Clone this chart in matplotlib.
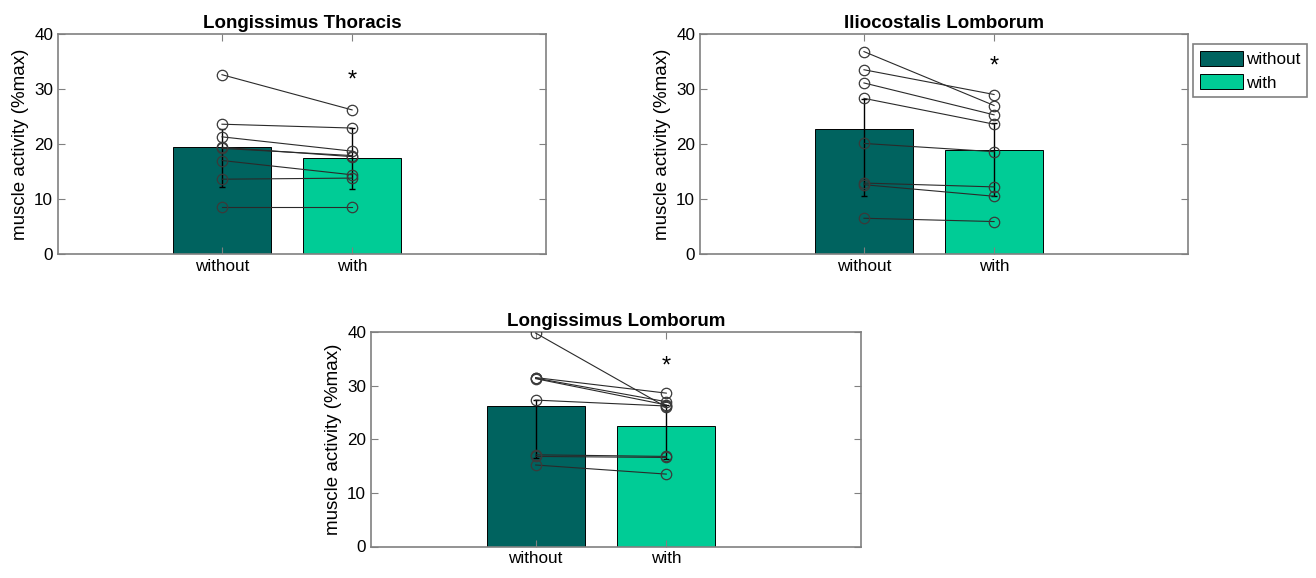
import numpy as np
import matplotlib
matplotlib.use("Agg")
import matplotlib.pyplot as plt
from matplotlib.patches import Patch

plt.rcParams['font.family'] = ['Liberation Sans', 'DejaVu Sans']

# --- data (muscle activity, %max) ---
conditions = ["without", "with"]
muscles = ["Longissimus Thoracis", "Iliocostalis Lomborum", "Longissimus Lomborum"]

# individual subjects, one entry per subject
lt_without = [32.6, 23.6, 21.3, 19.4, 19.2, 17.0, 13.6, 8.5]
lt_with = [26.2, 22.9, 18.7, 17.7, 17.9, 14.4, 13.8, 8.5]
il_without = [36.8, 33.5, 31.1, 28.3, 20.1, 12.9, 12.6, 6.5]
il_with = [27.0, 29.0, 25.3, 23.6, 18.6, 12.2, 10.5, 5.9]
ll_without = [39.8, 31.5, 31.4, 31.3, 27.3, 17.1, 16.8, 15.2]
ll_with = [26.0, 28.6, 27.0, 26.4, 26.2, 16.8, 16.6, 13.5]

# group bars and error bar extents (low, high)
bar_lt = [19.4, 17.4]
bar_il = [22.7, 18.9]
bar_ll = [26.2, 22.5]
err_lt = [(12.1, 22.7), (11.9, 22.9)]
err_il = [(10.5, 28.2), (10.6, 23.9)]
err_ll = [(16.5, 27.3), (16.3, 26.4)]

# significance marker height
star_y = [31.6, 34.1, 33.5]

col_without = "#00635f"
col_with = "#00cc96"
spine_col = "#808080"

fig = plt.figure(figsize=(13.16, 5.78), dpi=100)
W, H = 1316, 578
boxes = [
    (58, 34, 488, 220),
    (700, 34, 488, 220),
    (371, 332, 490, 214.5),
]

panels = [
    (lt_without, lt_with, bar_lt, err_lt),
    (il_without, il_with, bar_il, err_il),
    (ll_without, ll_with, bar_ll, err_ll),
]

x = np.array([1, 2])
for i, (box, (wo, wi, bars, errs)) in enumerate(zip(boxes, panels)):
    l, t, w, h = box
    ax = fig.add_axes([l / W, 1 - (t + h) / H, w / W, h / H])

    ax.bar(x, bars, width=0.75, color=[col_without, col_with],
           edgecolor="black", linewidth=0.7, zorder=1)

    lo = np.array([bars[k] - errs[k][0] for k in range(2)])
    hi = np.array([errs[k][1] - bars[k] for k in range(2)])
    ax.errorbar(x, bars, yerr=[lo, hi], fmt="none", ecolor="black",
                elinewidth=1.0, capsize=2, capthick=1.0, zorder=2)

    for a, b in zip(wo, wi):
        ax.plot(x, [a, b], "-o", color="#2a2a2a", lw=0.8, ms=7.5,
                mfc="none", mec="#3a3a3a", mew=0.9, zorder=3)

    ax.text(2, star_y[i], "*", ha="center", va="center", fontsize=17, zorder=4)

    ax.set_xlim(-0.26, 3.49)
    ax.set_ylim(0, 40)
    ax.set_yticks([0, 10, 20, 30, 40])
    ax.set_xticks(x)
    ax.set_xticklabels(conditions)
    ax.set_ylabel("muscle activity (%max)", fontsize=13.5)
    ax.set_title(muscles[i], fontsize=13.5, fontweight="bold", pad=4)
    ax.tick_params(direction="in", length=5, width=0.8, labelsize=12.3,
                   top=True, right=True, color=spine_col)
    for s in ax.spines.values():
        s.set_color(spine_col)
        s.set_linewidth(1.2)

handles = [Patch(facecolor=col_without, edgecolor="black", linewidth=0.7),
           Patch(facecolor=col_with, edgecolor="black", linewidth=0.7)]
leg = fig.legend(handles, conditions, loc="upper left",
                 bbox_to_anchor=(1193 / W, 1 - 44 / H), fontsize=12.3,
                 handlelength=2.5, handleheight=1.0, handletextpad=0.2,
                 borderpad=0.4, labelspacing=0.4, fancybox=False,
                 framealpha=1, edgecolor=spine_col, borderaxespad=0)
leg.get_frame().set_linewidth(1.2)

fig.savefig("out.png", dpi=100)
